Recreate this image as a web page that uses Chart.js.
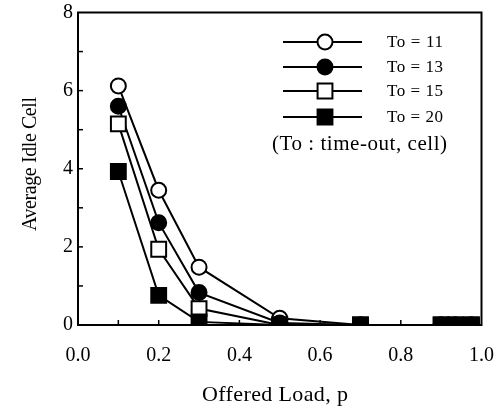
<!DOCTYPE html>
<html>
<head>
<meta charset="utf-8">
<script src="https://cdn.jsdelivr.net/npm/chart.js@4.4.1/dist/chart.umd.min.js"></script>
<style>
html,body{margin:0;padding:0;background:#fff;}
canvas{display:block;}
</style>
</head>
<body>
<canvas id="c" width="494" height="408"></canvas>
<script>
// ---- data ----
const loads = [0.1, 0.2, 0.3, 0.5, 0.7, 0.9, 0.935, 0.975];
const to11 = [6.12, 3.45, 1.48, 0.17, 0, 0, 0, 0];
const to13 = [5.6, 2.62, 0.83, 0.05, 0, 0, 0, 0];
const to15 = [5.15, 1.94, 0.42, 0.0, 0, 0, 0, 0];
const to20 = [3.93, 0.76, 0.08, 0.0, 0, 0, 0, 0];
const seriesLabels = ["To = 11", "To = 13", "To = 15", "To = 20"];
const noteText = "(To : time-out, cell)";
const xTitle = "Offered Load, p";
const yTitle = "Average Idle Cell";

const FONT = "'Liberation Serif', 'Times New Roman', serif";
const styles = [
  {pointStyle: 'circle', fill: '#fff', r: 7.5},
  {pointStyle: 'circle', fill: '#000', r: 7.5},
  {pointStyle: 'rect', fill: '#fff', r: 10.5},
  {pointStyle: 'rect', fill: '#000', r: 10.5}
];
const allSeries = [to11, to13, to15, to20];

const datasets = allSeries.map((s, i) => ({
  label: seriesLabels[i],
  data: loads.map((x, j) => ({x: x, y: s[j]})),
  borderColor: '#000',
  borderWidth: 2,
  pointStyle: styles[i].pointStyle,
  pointRadius: styles[i].r,
  pointBackgroundColor: styles[i].fill,
  pointBorderColor: '#000',
  pointBorderWidth: 2,
  tension: 0,
  order: 4 - i
}));

function drawMarker(ctx, st, x, y) {
  ctx.save();
  ctx.lineWidth = 2;
  ctx.strokeStyle = '#000';
  ctx.fillStyle = st.fill;
  ctx.beginPath();
  if (st.pointStyle === 'circle') {
    ctx.arc(x, y, st.r, 0, Math.PI * 2);
  } else {
    const h = st.r * Math.SQRT1_2;
    ctx.rect(x - h, y - h, 2 * h, 2 * h);
  }
  ctx.fill();
  ctx.stroke();
  ctx.restore();
}

// draw text with letter spacing adjusted to a target width
function fitText(ctx, text, x, y, size, targetW, align, weight) {
  ctx.font = (weight ? weight + " " : "") + size + "px " + FONT;
  ctx.letterSpacing = '0px';
  const w = ctx.measureText(text).width;
  const ls = (targetW - w) / Math.max(1, text.length - 1);
  ctx.letterSpacing = ls + 'px';
  const total = w + ls * (text.length - 1);
  let sx = x;
  if (align === 'center') sx = x - total / 2;
  ctx.textAlign = 'left';
  ctx.fillText(text, sx, y);
  ctx.letterSpacing = '0px';
}

const framePlugin = {
  id: 'frame',
  afterDatasetsDraw(chart) {
    const {ctx, chartArea: a, scales: {x, y}} = chart;
    ctx.save();
    ctx.strokeStyle = '#000';
    ctx.lineWidth = 2;
    ctx.strokeRect(a.left, a.top, a.right - a.left, a.bottom - a.top);
    ctx.lineWidth = 1.5;
    // minor inward ticks
    for (let v = 1; v < 10; v++) {
      const px = x.getPixelForValue(v / 10);
      ctx.beginPath();
      ctx.moveTo(px, a.bottom);
      ctx.lineTo(px, a.bottom - 5);
      ctx.stroke();
    }
    for (let v = 1; v < 8; v++) {
      const py = y.getPixelForValue(v);
      ctx.beginPath();
      ctx.moveTo(a.left, py);
      ctx.lineTo(a.left + 5, py);
      ctx.stroke();
    }
    // legend
    const rows = [42, 67, 91, 117];
    ctx.fillStyle = '#000';
    ctx.textBaseline = 'middle';
    rows.forEach((ry, i) => {
      ctx.lineWidth = 2;
      ctx.beginPath();
      ctx.moveTo(283, ry);
      ctx.lineTo(362, ry);
      ctx.stroke();
      drawMarker(ctx, styles[i], 325, ry);
      ctx.fillStyle = '#000';
      fitText(ctx, seriesLabels[i], 387, ry + 1, 17, 56, 'left');
    });
    fitText(ctx, noteText, 272, 144, 21, 175, 'left');
    // axis titles
    fitText(ctx, xTitle, 275, 395, 22, 146, 'center');
    ctx.save();
    ctx.translate(31, 164);
    ctx.rotate(-Math.PI / 2);
    fitText(ctx, yTitle, 0, 0, 20, 134, 'center');
    ctx.restore();
    ctx.restore();
  }
};

new Chart(document.getElementById('c'), {
  type: 'line',
  data: {datasets},
  options: {
    responsive: false,
    animation: false,
    layout: {padding: {left: 0, right: 11, top: 10, bottom: 0}},
    plugins: {legend: {display: false}, tooltip: {enabled: false}},
    scales: {
      x: {
        type: 'linear', min: 0, max: 1,
        grid: {display: false, drawTicks: false},
        border: {display: false},
        ticks: {
          stepSize: 0.2, padding: 19, color: '#000',
          font: {family: FONT, size: 20},
          callback: v => v.toFixed(1)
        },
        afterFit(s) { s.height = 83; s.paddingLeft = 0; s.paddingRight = 0; }
      },
      y: {
        type: 'linear', min: 0, max: 8,
        grid: {display: false, drawTicks: false},
        border: {display: false},
        ticks: {
          stepSize: 2, padding: 5, color: '#000',
          font: {family: FONT, size: 20}
        },
        afterFit(s) { s.width = 78; s.paddingTop = 0; s.paddingBottom = 0; }
      }
    }
  },
  plugins: [framePlugin]
});
</script>
</body>
</html>
